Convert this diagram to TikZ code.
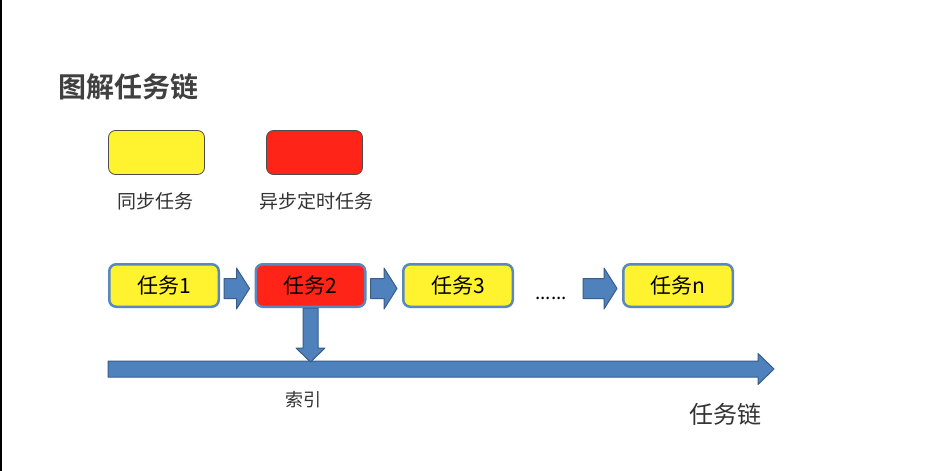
\documentclass[tikz,border=0pt]{standalone}
\usepackage{fontspec}
\setmainfont{Noto Sans CJK SC}[BoldFont={Noto Sans CJK SC Bold}]
\usetikzlibrary{calc}

\definecolor{syncyellow}{HTML}{FFF22E}
\definecolor{asyncred}{HTML}{FF2318}
\definecolor{taskblue}{HTML}{5B87C0}
\definecolor{arrowblue}{HTML}{4F81BD}
\definecolor{arrowedge}{HTML}{385D8A}

% block arrow from one task box to the next
\newcommand{\chainarrow}[2]{%
  \draw[blockarrow] let \p1=($(#1)+(4,0)$), \p2=($(#2.west)+(-5,3)$) in
    (\x1,\y2+10pt) -- (\x2-13pt,\y2+10pt) -- (\x2-13pt,\y2+20.5pt) -- (\x2,\y2)
    -- (\x2-13pt,\y2-20.5pt) -- (\x2-13pt,\y2-10pt) -- (\x1,\y2-10pt) -- cycle;}

\begin{document}
\begin{tikzpicture}[x=1pt, y=-1pt, line join=round]
  % ---- Styles ----
  \tikzset{
    task/.style={draw=taskblue, line width=2.5pt, rounded corners=7pt,
      minimum width=109.5pt, minimum height=42.5pt, inner sep=0pt,
      font=\fontsize{21}{21}\selectfont},
    legendbox/.style={draw=black!70, line width=0.8pt, rounded corners=7pt,
      minimum width=96pt, minimum height=44pt, inner sep=0pt},
    note/.style={font=\fontsize{19}{19}\selectfont, text=black!80},
    blockarrow/.style={fill=arrowblue, draw=arrowedge, line width=1pt},
  }

  % ---- Page ----
  \fill[white] (0,0) rectangle (945,471);
  \useasboundingbox (0,0) rectangle (945,471);
  \draw[black, line width=1.5pt] (0.75,0) -- (0.75,471);

  % Title
  \node[anchor=west, inner sep=0pt, text=black!75,
    font=\fontsize{28}{28}\selectfont\bfseries] (title) at (58,87) {图解任务链};

  % ---- Legend ----
  \node[legendbox, fill=syncyellow] (syncbox) at (156.5,152.5) {};
  \node[legendbox, fill=asyncred] (asyncbox) at (314.5,152.5) {};
  \node[note] (synclabel) at (155,201) {同步任务};
  \node[note] (asynclabel) at (316,201) {异步定时任务};

  % ---- Task chain ----
  \node[task, fill=syncyellow] (t1) at (164,285.5) {任务1};
  \node[task, fill=asyncred] (t2) at (310.5,285.5) {任务2};
  \node[task, fill=syncyellow] (t3) at (458,285.5) {任务3};
  \node[task, fill=syncyellow] (tn) at (678,285.5) {任务n};
  \node[anchor=base west, inner sep=0pt, font=\fontsize{19}{19}\selectfont]
    (dots) at (535,299) {......};
  \coordinate (dotsgap) at (579,288);

  \chainarrow{t1.east}{t2}
  \chainarrow{t2.east}{t3}
  \chainarrow{dotsgap}{tn}

  % Time axis
  \coordinate (axisL) at (108,369);
  \coordinate (axisR) at (774,369);
  \draw[blockarrow] let \p1=(axisL), \p2=(axisR) in
    (\x1,\y1+8pt) -- (\x2-16pt,\y1+8pt) -- (\x2-16pt,\y1+15.5pt) -- (\x2,\y1)
    -- (\x2-16pt,\y1-15.5pt) -- (\x2-16pt,\y1-8pt) -- (\x1,\y1-8pt) -- cycle;

  % Index arrow from task 2 down to the axis
  \draw[blockarrow] let \p1=(t2.south), \p2=(axisL) in
    (\x1-7.5pt,\y1) -- (\x1-7.5pt,\y2+21pt) -- (\x1-14.5pt,\y2+21pt) -- (\x1,\y2+7pt)
    -- (\x1+14.5pt,\y2+21pt) -- (\x1+7.5pt,\y2+21pt) -- (\x1+7.5pt,\y1) -- cycle;

  % Labels under the axis
  \node[note, font=\fontsize{18}{18}\selectfont] (index) at (303,400) {索引};
  \node[note, font=\fontsize{24}{24}\selectfont] (chain) at (725,414) {任务链};

\end{tikzpicture}
\end{document}
